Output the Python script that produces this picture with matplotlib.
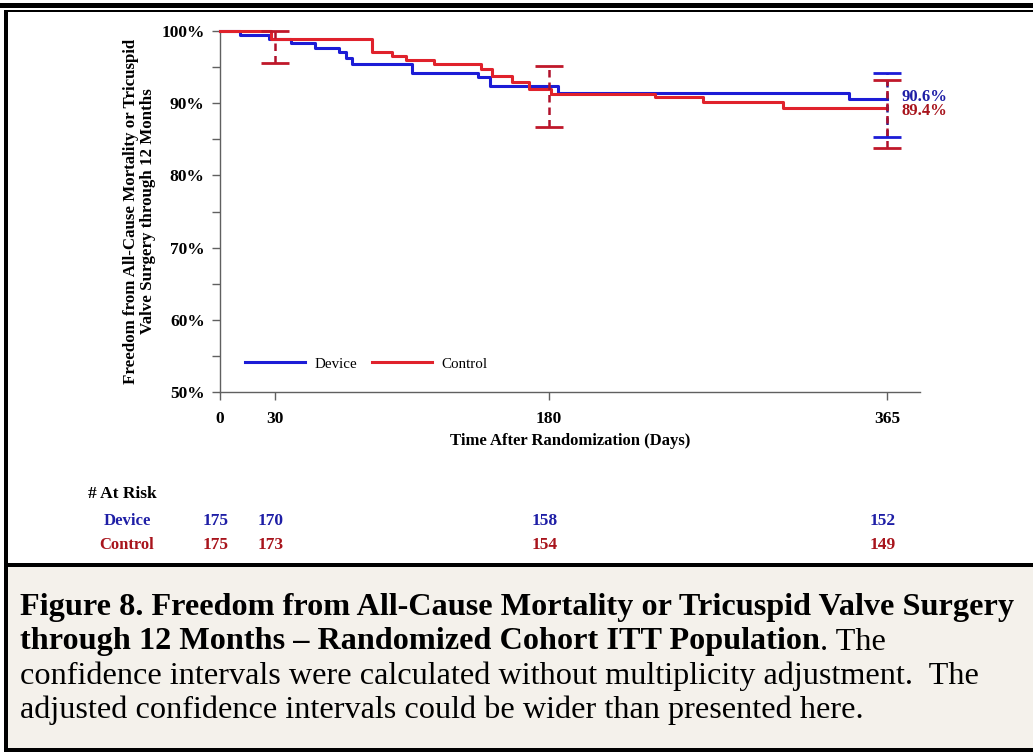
import matplotlib
matplotlib.use('Agg')
import matplotlib.pyplot as plt
from matplotlib.patches import Rectangle
from matplotlib.ticker import MultipleLocator, FuncFormatter

# Kaplan-Meier steps (days, % event free)
days_dev = [0, 11, 27, 39, 52, 65, 69, 72, 105, 141, 148, 185, 344, 365]
surv_dev = [100, 99.45, 98.85, 98.3, 97.7, 97.1, 96.2, 95.4, 94.2, 93.6, 92.4, 91.4, 90.6, 90.6]
days_ctl = [0, 28, 83, 94, 102, 117, 143, 149, 160, 169, 181, 238, 264, 308, 365]
surv_ctl = [100, 98.85, 97.1, 96.6, 96.0, 95.4, 94.8, 93.7, 93.0, 91.9, 91.3, 90.8, 90.2, 89.4, 89.4]

# confidence intervals
ci_days_ctl = [30, 180, 365]
ci_lo_ctl = [95.6, 86.7, 83.8]
ci_hi_ctl = [100, 95.15, 93.2]
ci_days_dev = [365]
ci_lo_dev = [85.3]
ci_hi_dev = [94.2]

risk_days = [0, 30, 180, 365]
risk_dev = [175, 170, 158, 152]
risk_ctl = [175, 173, 154, 149]
xticks = [0, 30, 180, 365]

BLUE = '#1c1cd6'
RED = '#e0222c'
DKBLUE = '#1e1ea6'
DKRED = '#a8141c'
SERIF = ['Liberation Serif', 'DejaVu Serif']

W, H = 1033, 753
fig = plt.figure(figsize=(W / 100, H / 100), dpi=100)
fig.patch.set_facecolor('white')

# frame around chart and caption box
def px_rect(x0, y0, x1, y1, color):
    fig.add_artist(Rectangle((x0 / W, 1 - y1 / H), (x1 - x0) / W, (y1 - y0) / H,
                             transform=fig.transFigure, color=color, lw=0, zorder=0))

px_rect(8, 567, W, 748, '#f4f1eb')
px_rect(0, 3, W, 8, 'black')
px_rect(4, 10, W, 12, 'black')
px_rect(4, 10, 8, 752, 'black')
px_rect(4, 563, W, 567, 'black')
px_rect(4, 748, W, 752, 'black')

ax = fig.add_axes([220 / W, 1 - 392 / H, 700 / W, 361 / H])
ax.set_xlim(0, 383)
ax.set_ylim(50, 100)

ax.step(days_dev, surv_dev, where='post', color=BLUE, lw=2.2, label='Device', clip_on=False, zorder=3)
ax.step(days_ctl, surv_ctl, where='post', color=RED, lw=2.2, label='Control', clip_on=False, zorder=3)

cap = 7.7
for d, lo, hi in zip(ci_days_dev, ci_lo_dev, ci_hi_dev):
    ax.vlines(d, lo, hi, color='#2a1a8a', lw=1.8, linestyles=(0, (3, 2)), zorder=4)
    ax.hlines([lo, hi], d - cap, d + cap, color=BLUE, lw=2, zorder=4)
for d, lo, hi in zip(ci_days_ctl, ci_lo_ctl, ci_hi_ctl):
    ax.vlines(d, lo, hi, color='#b0102a', lw=1.8, linestyles=(0, (3, 2)), zorder=5, clip_on=False)
    ax.hlines([lo, hi], d - cap, d + cap, color='#c0182a', lw=2, zorder=5, clip_on=False)

ax.text(373, surv_dev[-1] + 0.3, f'{surv_dev[-1]:.1f}%', color=DKBLUE, fontsize=12,
        fontweight='bold', family=SERIF, va='center', ha='left', clip_on=False)
ax.text(373, surv_ctl[-1] - 0.45, f'{surv_ctl[-1]:.1f}%', color=DKRED, fontsize=12,
        fontweight='bold', family=SERIF, va='center', ha='left', clip_on=False)

for s in ['top', 'right']:
    ax.spines[s].set_visible(False)
for s in ['left', 'bottom']:
    ax.spines[s].set_color('#606060')
    ax.spines[s].set_linewidth(1)

ax.set_xticks(xticks)
ax.yaxis.set_major_locator(MultipleLocator(10))
ax.yaxis.set_minor_locator(MultipleLocator(5))
ax.yaxis.set_major_formatter(FuncFormatter(lambda v, p: f'{v:.0f}%'))
ax.tick_params(axis='both', which='both', length=6, width=1, color='#606060')
ax.tick_params(axis='x', pad=8)
ax.tick_params(axis='y', pad=5)
for lab in ax.get_xticklabels() + ax.get_yticklabels():
    lab.set_family(SERIF)
    lab.set_fontweight('bold')
    lab.set_fontsize(12.5)

ax.set_xlabel('Time After Randomization (Days)', family=SERIF, fontweight='bold', fontsize=12, labelpad=4)
ax.set_ylabel('Freedom from All-Cause Mortality or Tricuspid\nValve Surgery through 12 Months',
              family=SERIF, fontweight='bold', fontsize=12.2, labelpad=4, linespacing=1.05)

ax.legend(loc='center left', bbox_to_anchor=(0.036, 0.078), ncol=2, frameon=False,
          handlelength=4.0, handletextpad=0.6, columnspacing=1.0, borderpad=0,
          borderaxespad=0, prop={'family': SERIF, 'size': 10.8})

# at-risk table
fig.text(88 / W, 1 - 494 / H, '# At Risk', family=SERIF, fontweight='bold', fontsize=12.5, va='center')
fig.text(127 / W, 1 - 521 / H, 'Device', family=SERIF, fontweight='bold', fontsize=12, va='center',
         ha='center', color=DKBLUE)
fig.text(127 / W, 1 - 545 / H, 'Control', family=SERIF, fontweight='bold', fontsize=12, va='center',
         ha='center', color=DKRED)
for d, nd, nc in zip(risk_days, risk_dev, risk_ctl):
    xf = fig.transFigure.inverted().transform(ax.transData.transform((d, 50)))[0] - 4 / W
    fig.text(xf, 1 - 521 / H, str(nd), family=SERIF, fontweight='bold', fontsize=12.5,
             va='center', ha='center', color=DKBLUE)
    fig.text(xf, 1 - 545 / H, str(nc), family=SERIF, fontweight='bold', fontsize=12.5,
             va='center', ha='center', color=DKRED)

# caption
cap_kw = dict(family=SERIF, fontsize=23.2, va='center', ha='left', color='black')
fig.text(20 / W, 1 - 608 / H, 'Figure 8. Freedom from All-Cause Mortality or Tricuspid Valve Surgery',
         fontweight='bold', **cap_kw)
t2 = fig.text(20 / W, 1 - 642 / H, 'through 12 Months \u2013 Randomized Cohort ITT Population',
              fontweight='bold', **cap_kw)
plt.annotate('. The', xy=(1, 0), xycoords=t2, va='bottom', ha='left',
             family=SERIF, fontsize=23.2, annotation_clip=False)
fig.text(20 / W, 1 - 676 / H, 'confidence intervals were calculated without multiplicity adjustment.  The',
         **cap_kw)
fig.text(20 / W, 1 - 710 / H, 'adjusted confidence intervals could be wider than presented here.', **cap_kw)

plt.savefig('out.png', dpi=100)
